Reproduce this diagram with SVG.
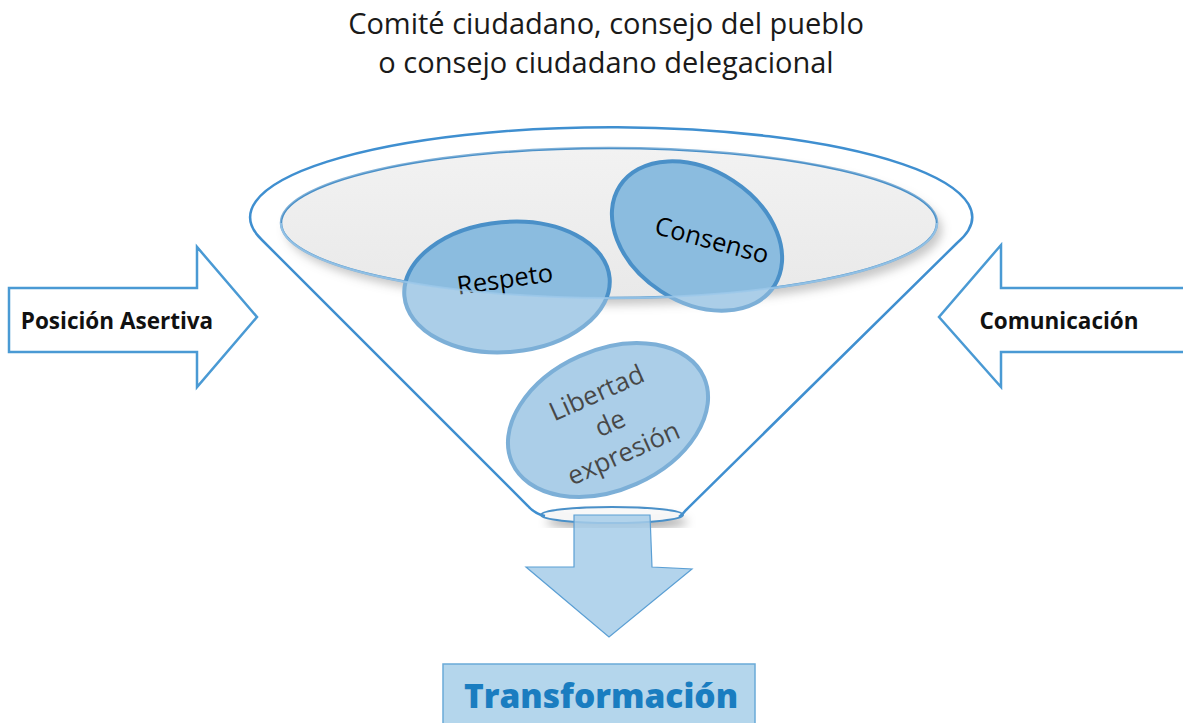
<svg xmlns="http://www.w3.org/2000/svg" width="1183" height="723" viewBox="0 0 1183 723">
  <defs>
    <style>
      .title { font-family: "Open Sans", "Noto Sans", sans-serif; font-size: 29px; fill: #1a1a1a; text-anchor: middle; }
      .lbl { font-family: "Open Sans", "Noto Sans", sans-serif; font-weight: bold; font-size: 22.5px; fill: #111; text-anchor: middle; }
      .circ { fill: #8bbcdf; stroke: #4a90c8; stroke-width: 4; }
      .ctext { font-family: "Open Sans", "Noto Sans", sans-serif; font-size: 25.5px; fill: #000; text-anchor: middle; }
      .ltext { font-family: "Open Sans", "Noto Sans", sans-serif; font-size: 26px; fill: #000; text-anchor: middle; }
      .blk { fill: #ffffff; stroke: #4a9ad4; stroke-width: 2.5; stroke-linejoin: miter; }
      .fline { fill: none; stroke: #3f8fd0; stroke-width: 2.5; }
    </style>
    <filter id="shadow" x="-10%" y="-20%" width="120%" height="150%">
      <feDropShadow dx="5" dy="7" stdDeviation="5" flood-color="#000" flood-opacity="0.3"/>
    </filter>
    <linearGradient id="gray" x1="0" y1="0" x2="0" y2="1">
      <stop offset="0" stop-color="#f2f2f2"/>
      <stop offset="1" stop-color="#e9e9e9"/>
    </linearGradient>
  </defs>

  <g id="title">
    <text class="title" x="606" y="34">Comité ciudadano, consejo del pueblo</text>
    <text class="title" x="606" y="73">o consejo ciudadano delegacional</text>
  </g>

  <g id="funnel">
    <path d="M 262,240 A 361 90 0 1 1 957,243 L 686,510 Q 612,524 528,506 Z" fill="#ffffff"/>
    <ellipse cx="612" cy="515" rx="71" ry="8" fill="#f6f6f6" filter="url(#shadow)"/>
    <ellipse cx="609" cy="223" rx="328" ry="75" fill="url(#gray)" filter="url(#shadow)"/>
    <ellipse cx="609" cy="223" rx="328" ry="75" fill="none" stroke="#4a90c8" stroke-width="2.5"/>
  </g>

  <g id="respeto">
    <ellipse class="circ" cx="507" cy="287" rx="103" ry="65" transform="rotate(-5 507 287)"/>
    <text class="ctext" x="505" y="288" transform="rotate(-8 505 280)">Respeto</text>
  </g>

  <g id="consenso">
    <ellipse class="circ" cx="697" cy="236" rx="92" ry="66" transform="rotate(33 697 236)"/>
    <text class="ctext" x="712" y="249" transform="rotate(15 712 240)">Consenso</text>
  </g>

  <g id="libertad">
    <ellipse class="circ" cx="608" cy="420" rx="105" ry="70" transform="rotate(-24 608 420)"/>
    <g transform="rotate(-24 610 423)">
      <text class="ltext" x="610" y="399">Libertad</text>
      <text class="ltext" x="610" y="432">de</text>
      <text class="ltext" x="610" y="465">expresión</text>
    </g>
  </g>

  <g id="glass">
    <path fill-rule="evenodd" fill="#ffffff" fill-opacity="0.28"
      d="M 262,240 A 361 90 0 1 1 957,243 L 686,510 Q 612,524 528,506 Z M 281,223 A 328 75 0 1 0 937,223 A 328 75 0 1 0 281,223 Z"/>
    <path d="M 281,223 A 328 75 0 0 0 937,223" fill="none" stroke="#9cc8ea" stroke-width="2" stroke-opacity="0.8"/>
    <path class="fline" d="M 545,516 Q 535,514 528,506 L 262,240 A 361 90 0 1 1 957,243 L 686,510 Q 683,514 679,517"/>
    <ellipse cx="612" cy="515" rx="71" ry="8" fill="none" stroke="#4a90c8" stroke-width="2"/>
  </g>

  <g id="posicion-asertiva">
    <path class="blk" d="M 9,288 L 197,288 L 197,247 L 257,317 L 197,387 L 197,352 L 9,352 Z"/>
    <text class="lbl" x="117" y="329">Posición Asertiva</text>
  </g>

  <g id="comunicacion">
    <path class="blk" d="M 1185,288 L 1001,288 L 1001,245 L 939,317 L 1001,387 L 1001,352 L 1185,352 Z"/>
    <text class="lbl" x="1059" y="329">Comunicación</text>
  </g>

  <g id="connectors">
    <path d="M 574,515 L 650,515 L 652,567 L 692,569 L 609,637 L 526,567 L 574,567 Z" fill="#a6cde9" fill-opacity="0.85" stroke="#5b9fd4" stroke-width="1.2" stroke-linejoin="miter"/>
  </g>

  <g id="transformacion">
    <rect x="443" y="664" width="312" height="70" fill="#b4d6ec" stroke="#6aaad8" stroke-width="1.5"/>
    <text x="601" y="708" style="font-family:'Open Sans','Noto Sans',sans-serif;font-weight:800;font-size:33.5px;fill:#1a7dc0;text-anchor:middle">Transformación</text>
  </g>
</svg>
